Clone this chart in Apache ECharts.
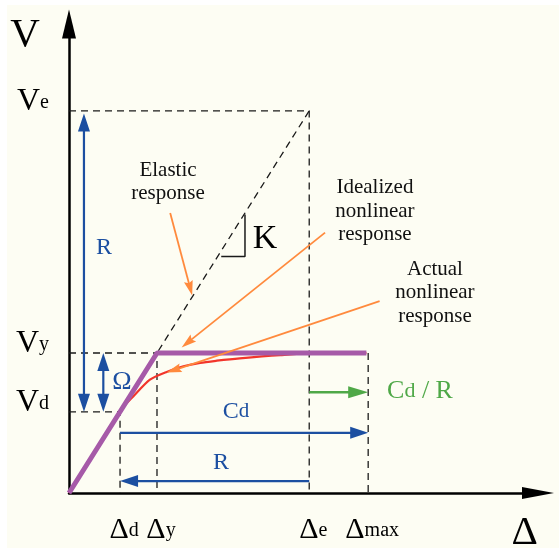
<!DOCTYPE html>
<html><head><meta charset="utf-8">
<script src="https://cdn.jsdelivr.net/npm/echarts@6/dist/echarts.min.js"></script>
<style>
html,body{margin:0;padding:0;background:#fff;}
#bg{position:absolute;left:7px;top:5px;right:0;bottom:0;background:#fdfdf3;}
#chart{position:absolute;left:0;top:0;width:559px;height:548px;}
</style></head><body>
<div id="bg"></div><div id="chart"></div>
<script>
const FONT = 'Liberation Serif';

// ---- axis key values (Δ normalised by Δy, V normalised by Vy) ----
const xTickLabels = ['Δd', 'Δy', 'Δe', 'Δmax'];
const xTickValues = [0.58, 1.0, 2.73, 3.40];
const yTickLabels = ['Vd', 'Vy', 'Ve'];
const yTickValues = [0.58, 1.0, 2.73];
const axisTitles = ['V', 'Δ'];
const axisTitlePos = [[-0.50, 3.27], [5.18, -0.29]];

// ---- responses ----
const elasticResponse = [[0, 0], [2.73, 2.73]];
const idealizedResponse = [[0, 0], [1.0, 1.0], [3.38, 1.0]];
const actualResponse = [[0, 0], [0.60, 0.60], [0.73, 0.69], [0.92, 0.81], [1.11, 0.865], [1.30, 0.905],
  [1.49, 0.93], [1.68, 0.945], [1.94, 0.962], [2.40, 0.985], [2.85, 1.0], [3.38, 1.0]];

// ---- dashed guide lines ----
const guideVe = [[0, 2.73], [2.73, 2.73], [2.73, 0]];
const guideVy = [[0, 1.0], [1.0, 1.0], [1.0, 0]];
const guideVd = [[0, 0.58], [0.58, 0.58], [0.58, 0]];
const guideMax = [[3.40, 1.0], [3.40, 0]];
const slopeMarkK = [[1.73, 1.69], [2.0, 1.69], [2.0, 1.99]];

// ---- arrows: [x1, y1, x2, y2, doubleHeaded] ----
const blueArrows = [[0.17, 0.58, 0.17, 2.71, 1], [0.39, 0.58, 0.39, 1.0, 1],
  [0.58, 0.43, 3.40, 0.43, 0], [2.73, 0.085, 0.58, 0.085, 0]];
const greenArrows = [[2.73, 0.72, 3.40, 0.72, 0]];
const calloutArrows = [[1.15, 2.0, 1.40, 1.41, 0], [2.91, 1.86, 1.28, 1.04, 0], [3.53, 1.37, 1.11, 0.86, 0]];

// ---- annotations ----
const calloutText = ['Elastic\nresponse', 'Idealized\nnonlinear\nresponse', 'Actual\nnonlinear\nresponse'];
const calloutPos = [[1.125, 2.22], [3.477, 2.014], [4.159, 1.429]];
const blueText = ['{c|R}', '{o|Ω}', '{c|C}{s|d}', '{c|R}'];
const bluePos = [[0.398, 1.75], [0.602, 0.79], [1.898, 0.582], [1.727, 0.214]];
const greenText = ['{c|C}{s|d}{c| / R}'];
const greenPos = [[3.989, 0.724]];
const kText = ['K'];
const kPos = [[2.227, 1.814]];

const BLUE = '#1c4fa1', GREEN = '#4fa847', PURPLE = '#a65aa8', RED = '#f2352b', ORANGE = '#ff8a3d';

function guideSeries(data) {
  return { type: 'line', data, showSymbol: false, silent: true, z: 2,
    lineStyle: { color: '#1a1a1a', width: 1.3, type: [7, 5] } };
}

function arrowSeries(data, color, width, headLen, headWid, notch, z) {
  return {
    type: 'custom', coordinateSystem: 'cartesian2d', silent: true, z, data,
    renderItem(params, api) {
      const a = api.coord([api.value(0), api.value(1)]);
      const b = api.coord([api.value(2), api.value(3)]);
      const dbl = api.value(4) === 1;
      const dx = b[0] - a[0], dy = b[1] - a[1], len = Math.hypot(dx, dy);
      const ux = dx / len, uy = dy / len, nx = -uy, ny = ux;
      const head = (tip, sx, sy) => {
        const bx = tip[0] - sx * headLen, by = tip[1] - sy * headLen;
        return { type: 'polygon', shape: { points: [tip,
          [bx + nx * headWid / 2, by + ny * headWid / 2],
          [tip[0] - sx * headLen * (1 - notch), tip[1] - sy * headLen * (1 - notch)],
          [bx - nx * headWid / 2, by - ny * headWid / 2]] }, style: { fill: color } };
      };
      const s = dbl ? [a[0] + ux * headLen * 0.8, a[1] + uy * headLen * 0.8] : a;
      const e = [b[0] - ux * headLen * 0.8, b[1] - uy * headLen * 0.8];
      const children = [
        { type: 'line', shape: { x1: s[0], y1: s[1], x2: e[0], y2: e[1] }, style: { stroke: color, lineWidth: width } },
        head(b, ux, uy)
      ];
      if (dbl) children.push(head(a, -ux, -uy));
      return { type: 'group', children };
    }
  };
}

function textSeries(texts, positions, style) {
  return {
    type: 'custom', coordinateSystem: 'cartesian2d', silent: true, z: 20,
    data: positions.map((p, i) => [p[0], p[1], i]),
    renderItem(params, api) {
      const pt = api.coord([api.value(0), api.value(1)]);
      return { type: 'text', x: pt[0], y: pt[1],
        style: Object.assign({ text: texts[api.value(2)], align: 'center', verticalAlign: 'middle', fontFamily: FONT }, style) };
    }
  };
}

function findIdx(vals, v) {
  let best = 0;
  vals.forEach((x, i) => { if (Math.abs(x - v) < Math.abs(vals[best] - v)) best = i; });
  return best;
}
function subLabel(s) { return '{a|' + s[0] + '}{b|' + s.slice(1) + '}'; }

const chart = echarts.init(document.getElementById('chart'));
chart.setOption({
  backgroundColor: 'transparent',
  animation: false,
  grid: { left: 69, right: 21, top: 24, bottom: 55, containLabel: false },
  xAxis: {
    type: 'value', min: 0, max: 5.33,
    splitLine: { show: false }, axisTick: { show: false },
    axisLine: { show: true, lineStyle: { color: '#000', width: 2.5 }, symbol: ['none', 'triangle'], symbolSize: [12, 32] },
    axisLabel: {
      customValues: xTickValues, margin: 26, padding: [0, 0, 0, 8],
      formatter: v => subLabel(xTickLabels[findIdx(xTickValues, v)]),
      rich: {
        a: { fontFamily: FONT, fontSize: 30, color: '#000', lineHeight: 22 },
        b: { fontFamily: FONT, fontSize: 20, color: '#000', verticalAlign: 'bottom' }
      }
    }
  },
  yAxis: {
    type: 'value', min: 0, max: 3.35,
    splitLine: { show: false }, axisTick: { show: false },
    axisLine: { show: true, lineStyle: { color: '#000', width: 2.5 }, symbol: ['none', 'triangle'], symbolSize: [14, 29] },
    axisLabel: {
      customValues: yTickValues, margin: 20, padding: [0, 0, 19, 0],
      formatter: v => subLabel(yTickLabels[findIdx(yTickValues, v)]),
      rich: {
        a: { fontFamily: FONT, fontSize: 32, color: '#000', lineHeight: 23 },
        b: { fontFamily: FONT, fontSize: 20, color: '#000', verticalAlign: 'bottom' }
      }
    }
  },
  series: [
    guideSeries(elasticResponse),
    guideSeries(guideVe),
    guideSeries(guideVy),
    guideSeries(guideVd),
    guideSeries(guideMax),
    { type: 'line', data: slopeMarkK, showSymbol: false, silent: true, z: 2, lineStyle: { color: '#1a1a1a', width: 1.5 } },
    { type: 'line', data: actualResponse, smooth: 0.25, showSymbol: false, silent: true, z: 3, lineStyle: { color: RED, width: 2.2 } },
    { type: 'line', data: idealizedResponse, showSymbol: false, silent: true, z: 4, lineStyle: { color: PURPLE, width: 5 } },
    arrowSeries(blueArrows, BLUE, 2.2, 18, 12, 0, 5),
    arrowSeries(greenArrows, GREEN, 2.5, 20, 12, 0, 5),
    arrowSeries(calloutArrows, ORANGE, 1.8, 15, 9, 0.15, 6),
    textSeries(calloutText, calloutPos, { fontSize: 21, lineHeight: 23.5, fill: '#111' }),
    textSeries(blueText, bluePos, { rich: {
      c: { fontFamily: FONT, fontSize: 24, fill: BLUE, lineHeight: 21 },
      o: { fontFamily: FONT, fontSize: 26, fill: BLUE, lineHeight: 21 },
      s: { fontFamily: FONT, fontSize: 21, fill: BLUE, verticalAlign: 'bottom' } } }),
    textSeries(greenText, greenPos, { rich: {
      c: { fontFamily: FONT, fontSize: 26, fill: GREEN, lineHeight: 21 },
      s: { fontFamily: FONT, fontSize: 22, fill: GREEN, verticalAlign: 'bottom' } } }),
    textSeries(kText, kPos, { fontSize: 34, fill: '#000' }),
    textSeries(axisTitles, axisTitlePos, { fontSize: 41, fill: '#000' })
  ]
});
</script>
</body></html>
